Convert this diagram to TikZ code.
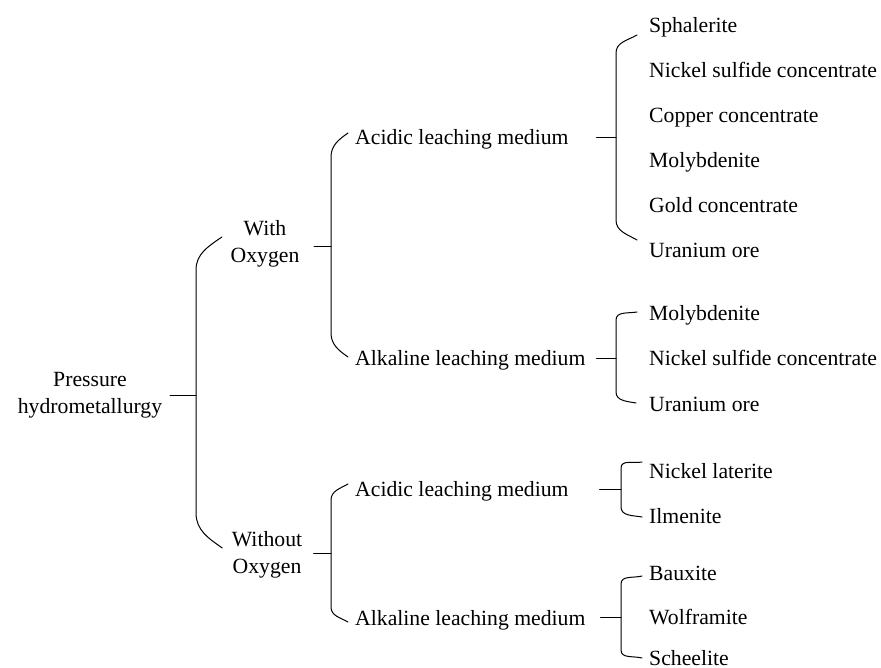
\documentclass[tikz,border=0pt]{standalone}
\usepackage{fontspec}
\setmainfont{Liberation Serif}
\begin{document}
\begin{tikzpicture}[x=1pt,y=-1pt,
  lbl/.style={inner sep=0pt, font=\fontsize{21.7}{27}\selectfont, text height=18pt, text depth=2pt, anchor=west},
  lbl2/.style={inner sep=0pt, font=\fontsize{21.7}{27}\selectfont, align=center},
  conn/.style={line width=1pt, line cap=round, line join=round}]
\useasboundingbox (0,0) rectangle (881,668);

% level 0 and 1
\node[lbl2] (root) at (90,395.5) {Pressure\\hydrometallurgy};
\node[lbl2] (wo) at (265,244) {With\\Oxygen};
\node[lbl2] (wio) at (267,555) {Without\\Oxygen};

% level 2
\node[lbl] (ac1) at (355,137) {Acidic leaching medium};
\node[lbl] (al1) at (355,357) {Alkaline leaching medium};
\node[lbl] (ac2) at (355,488) {Acidic leaching medium};
\node[lbl] (al2) at (355,617) {Alkaline leaching medium};

% leaves
\node[lbl] (sph) at (649,25) {Sphalerite};
\node[lbl] (nsc1) at (649,70) {Nickel sulfide concentrate};
\node[lbl] (cu) at (649,115) {Copper concentrate};
\node[lbl] (mo1) at (649,160) {Molybdenite};
\node[lbl] (au) at (649,205) {Gold concentrate};
\node[lbl] (u1) at (649,250) {Uranium ore};
\node[lbl] (mo2) at (649,313) {Molybdenite};
\node[lbl] (nsc2) at (649,358) {Nickel sulfide concentrate};
\node[lbl] (u2) at (649,403) {Uranium ore};
\node[lbl] (nl) at (649,470) {Nickel laterite};
\node[lbl] (il) at (649,515) {Ilmenite};
\node[lbl] (ba) at (649,572) {Bauxite};
\node[lbl] (wf) at (649,616) {Wolframite};
\node[lbl] (sc) at (649,657) {Scheelite};

% spine joints
\coordinate (s0) at (196,395);
\coordinate (s1) at (331,247);
\coordinate (s2) at (331,553);
\coordinate (t1) at (616,138);
\coordinate (t2) at (616,358);
\coordinate (t3) at (621,489);
\coordinate (t4) at (621,617);

% level 0 bracket
\draw[conn] ([xshift=7.7pt,yshift=0.5pt]root.east) -- (s0);
\draw[conn] ([xshift=-8.6pt,yshift=7pt]wo.west) to[out=215,in=90] (196,270)
  -- (196,513) to[out=-90,in=145] ([xshift=-9.4pt,yshift=7pt]wio.west);

% level 1 brackets
\draw[conn] ([xshift=14.6pt,yshift=-3pt]wo.east) -- (s1);
\draw[conn] ([xshift=-7pt,yshift=4pt]ac1.west) to[out=215,in=90] (331,157)
  -- (331,333) to[out=-90,in=145] ([xshift=-7pt]al1.west);

\draw[conn] ([xshift=11.4pt,yshift=2pt]wio.east) -- (s2);
\draw[conn] ([xshift=-7pt,yshift=4pt]ac2.west) to[out=210,in=90] (331,500)
  -- (331,607) to[out=-90,in=150] ([xshift=-7pt,yshift=-5pt]al2.west);

% level 2 brackets
\draw[conn] ([xshift=28pt,yshift=-1pt]ac1.east) -- (t1);
\draw[conn] ([xshift=-12pt,yshift=-10pt]sph.west) to[out=210,in=90] (616,53)
  -- (616,220) to[out=-90,in=150] ([xshift=-12pt,yshift=10pt]u1.west);

\draw[conn] ([xshift=11pt,yshift=-1pt]al1.east) -- (t2);
\draw[conn] ([xshift=-12pt,yshift=1pt]mo2.west) to[out=190,in=90] (616,320)
  -- (616,392) to[out=-90,in=170] ([xshift=-13pt]u2.west);

\draw[conn] ([xshift=31pt,yshift=-1pt]ac2.east) -- (t3);
\draw[conn] ([xshift=-7pt,yshift=8pt]nl.west) to[out=190,in=90] (621,468)
  -- (621,507) to[out=-90,in=170] ([xshift=-7pt,yshift=-2pt]il.west);

\draw[conn] ([xshift=15pt]al2.east) -- (t4);
\draw[conn] ([xshift=-7pt,yshift=-4pt]ba.west) to[out=195,in=90] (621,584)
  -- (621,650) to[out=-90,in=165] ([xshift=-7pt,yshift=-1pt]sc.west);
\end{tikzpicture}
\end{document}
